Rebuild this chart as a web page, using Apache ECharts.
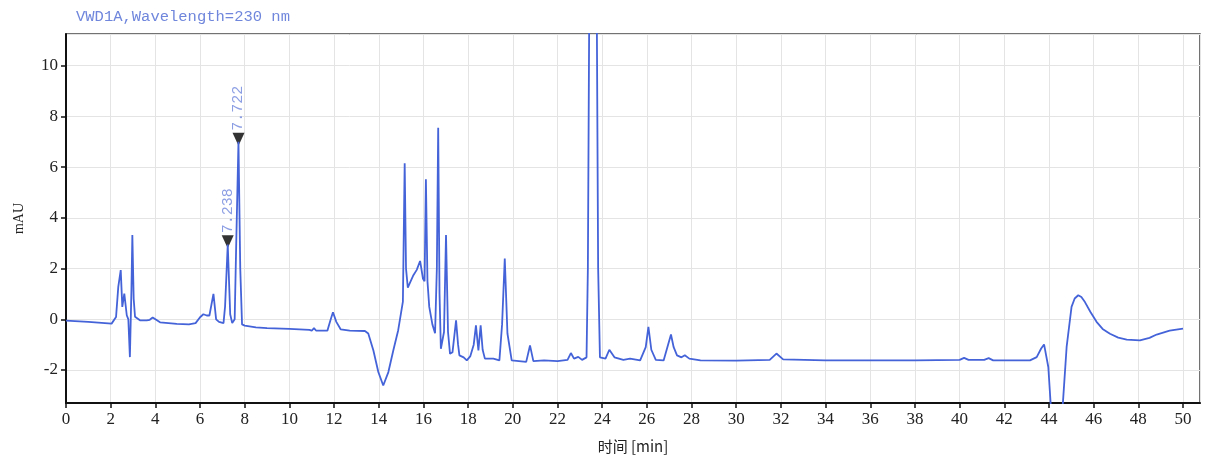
<!DOCTYPE html>
<html>
<head>
<meta charset="utf-8">
<title>VWD1A chromatogram</title>
<script src="https://cdn.jsdelivr.net/npm/echarts@6/dist/echarts.min.js"></script>
<style>
  html, body { margin: 0; padding: 0; background: #fff; }
  #chart { width: 1205px; height: 459px; }
</style>
</head>
<body>
<div id="chart"></div>
<script>
// retention time [min]
var times = [
  0.0, 1.0, 2.04, 2.24, 2.34, 2.45, 2.52, 2.61, 2.72, 2.79, 2.86, 2.93, 2.97, 3.03, 3.09, 3.31,
  3.61, 3.75, 3.88, 4.21, 4.96, 5.5, 5.8, 6.0, 6.15, 6.3, 6.42, 6.6, 6.72, 6.85, 7.05,
  7.12, 7.24, 7.35, 7.44, 7.55, 7.62, 7.72, 7.8, 7.88, 8.0, 8.5, 9.0, 10.0, 10.9, 11.0, 11.1,
  11.2, 11.7, 11.85, 11.95, 12.1, 12.3, 12.7, 13.38, 13.53, 13.76, 13.98, 14.2, 14.43, 14.65, 14.87, 15.08,
  15.16, 15.22, 15.3, 15.55, 15.7, 15.85, 15.98, 16.05, 16.11, 16.18, 16.26, 16.4, 16.52, 16.6, 16.66, 16.72,
  16.78, 16.92, 17.01, 17.1, 17.19, 17.3, 17.46, 17.55, 17.61, 17.8, 17.94, 18.1, 18.25, 18.35, 18.46, 18.56,
  18.65, 18.75, 19.13, 19.4, 19.52, 19.64, 19.76, 19.95, 20.6, 20.77, 20.92, 21.4, 22.0, 22.45, 22.6, 22.74,
  22.93, 23.1, 23.3, 23.36, 23.42, 23.58, 23.76, 23.82, 23.9, 24.15, 24.32, 24.55, 24.95, 25.25, 25.7, 25.95,
  26.07, 26.2, 26.4, 26.75, 26.95, 27.08, 27.2, 27.35, 27.55, 27.7, 27.9, 28.4, 30.0, 31.5, 31.8, 32.1,
  34.0, 36.0, 38.0, 40.0, 40.2, 40.4, 41.1, 41.3, 41.5, 43.15, 43.45, 43.65, 43.78, 43.97, 44.16, 44.35,
  44.57, 44.79, 45.01, 45.15, 45.31, 45.45, 45.61, 45.85, 46.13, 46.4, 46.73, 47.1, 47.48, 48.07, 48.5,
  48.82, 49.4, 50.0
];
// detector signal [mAU]
var signal = [
  -0.05, -0.1, -0.17, 0.09, 1.28, 1.94, 0.49, 1.01, 0.16, 0.0, -1.49, 1.2, 3.32, 0.8, 0.1, -0.04,
  -0.04, -0.02, 0.07, -0.12, -0.18, -0.2, -0.15, 0.08, 0.2, 0.15, 0.15, 1.0, 0.0, -0.1, -0.15,
  0.5, 2.95, 0.2, -0.15, 0.0, 3.0, 7.0, 2.0, -0.2, -0.25, -0.32, -0.35, -0.38, -0.42, -0.45, -0.35,
  -0.45, -0.45, 0.0, 0.28, -0.1, -0.4, -0.45, -0.46, -0.56, -1.23, -2.08, -2.61, -2.08, -1.23, -0.43, 0.7,
  6.15, 2.0, 1.25, 1.74, 1.95, 2.3, 1.6, 1.5, 5.52, 1.5, 0.49, -0.2, -0.55, 2.0, 7.55, 1.0,
  -1.16, -0.5, 3.32, -0.5, -1.36, -1.3, -0.04, -1.0, -1.42, -1.5, -1.62, -1.45, -1.0, -0.24, -1.23, -0.24,
  -1.2, -1.55, -1.55, -1.62, -0.2, 2.4, -0.56, -1.62, -1.68, -1.03, -1.65, -1.62, -1.65, -1.6, -1.33, -1.55,
  -1.48, -1.6, -1.5, 2.0, 12.0, 40.0, 12.0, 2.0, -1.5, -1.55, -1.2, -1.5, -1.6, -1.55, -1.62, -1.1,
  -0.3, -1.2, -1.6, -1.62, -1.0, -0.6, -1.1, -1.42, -1.5, -1.42, -1.55, -1.62, -1.63, -1.6, -1.35, -1.58,
  -1.62, -1.62, -1.62, -1.6, -1.52, -1.6, -1.6, -1.53, -1.62, -1.62, -1.49, -1.15, -0.99, -1.88, -4.5, -6.5,
  -4.0, -1.09, 0.49, 0.82, 0.95, 0.88, 0.68, 0.3, -0.1, -0.38, -0.57, -0.72, -0.8, -0.83, -0.73,
  -0.6, -0.45, -0.37
];
// integrated peaks: retention time and marker height
var peakTimes = [7.238, 7.722];
var peakMarks = [3.06, 7.1];

var trace = times.map(function (t, i) { return [t, signal[i]]; });
var peaks = peakTimes.map(function (t, i) { return [t, peakMarks[i]]; });

var chart = echarts.init(document.getElementById('chart'));
var tickFont = { fontFamily: 'Liberation Serif', fontSize: 17, color: '#222' };

chart.setOption({
  backgroundColor: '#fff',
  animation: false,
  title: {
    text: 'VWD1A,Wavelength=230 nm',
    left: 71,
    top: 4,
    textStyle: { fontFamily: 'Liberation Mono', fontSize: 15.5, fontWeight: 'normal', color: '#6f86dc' }
  },
  grid: {
    left: 66, right: 5, top: 34, bottom: 56,
    show: true, borderColor: '#444', borderWidth: 1.5
  },
  xAxis: {
    type: 'value',
    min: 0, max: 50.76,
    minInterval: 2, maxInterval: 2,
    name: '时间 [min]',
    nameLocation: 'middle',
    nameGap: 36,
    nameTextStyle: { fontFamily: 'Noto Sans CJK SC', fontSize: 15, color: '#222' },
    axisLine: { show: true, onZero: false, lineStyle: { color: '#111', width: 2 } },
    axisTick: { show: true, length: 5, lineStyle: { color: '#111', width: 1.5 } },
    axisLabel: Object.assign({ margin: 8, showMaxLabel: false }, tickFont),
    splitLine: { show: true, lineStyle: { color: '#e4e4e4', width: 1 } }
  },
  yAxis: {
    type: 'value',
    min: -3.3, max: 11.25,
    minInterval: 2, maxInterval: 2,
    name: 'mAU',
    nameLocation: 'middle',
    nameGap: 40,
    nameTextStyle: { fontFamily: 'Liberation Serif', fontSize: 14, color: '#222' },
    axisLine: { show: true, onZero: false, lineStyle: { color: '#111', width: 2 } },
    axisTick: { show: true, length: 5, lineStyle: { color: '#111', width: 1.5 } },
    axisLabel: Object.assign({ margin: 8, showMinLabel: false, showMaxLabel: false }, tickFont),
    splitLine: { show: true, lineStyle: { color: '#e4e4e4', width: 1 } }
  },
  series: [
    {
      name: 'VWD1A',
      type: 'line',
      data: trace,
      showSymbol: false,
      clip: true,
      lineStyle: { color: '#4563d9', width: 1.8 },
      itemStyle: { color: '#4563d9' }
    },
    {
      name: 'peaks',
      type: 'scatter',
      data: peaks,
      symbol: 'triangle',
      symbolRotate: 180,
      symbolSize: [12, 13],
      itemStyle: { color: '#000' },
      label: {
        show: true,
        position: 'top',
        rotate: 90,
        align: 'left',
        verticalAlign: 'middle',
        distance: 2,
        fontFamily: 'Liberation Mono',
        fontSize: 15,
        color: '#6f86dc',
        formatter: function (p) { return p.value[0].toFixed(3); }
      }
    }
  ]
});
</script>
</body>
</html>
